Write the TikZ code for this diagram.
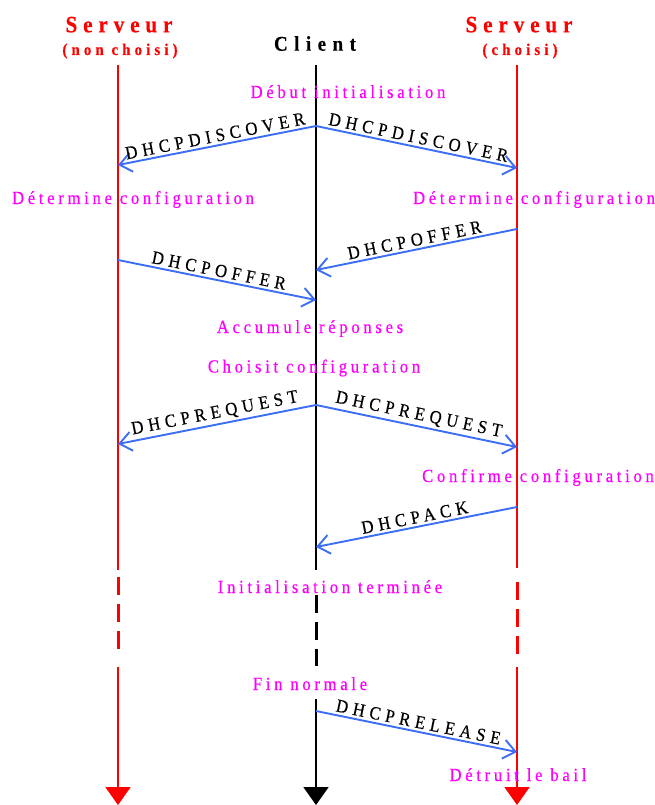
\documentclass[tikz,border=0pt]{standalone}
\usepackage{fontspec}
\setmainfont{Liberation Serif}
\usetikzlibrary{arrows.meta}
\newfontfamily\hdrfont{Liberation Serif}[LetterSpace=25,FakeStretch=0.9,FakeBold=0.3]
\newfontfamily\clientfont{Liberation Serif}[LetterSpace=31,FakeStretch=0.9,FakeBold=0.3]
\newfontfamily\lblfont{Liberation Serif}[LetterSpace=20,FakeStretch=0.9,FakeBold=0.4]
\newfontfamily\msgfont{Liberation Serif}[LetterSpace=27,FakeStretch=0.9,FakeBold=0.4]
\definecolor{msgblue}{RGB}{60,110,245}
\definecolor{notemag}{RGB}{255,0,255}
\definecolor{lifered}{RGB}{255,0,0}
\tikzset{
  liferedline/.style={draw=lifered, line width=2pt},
  lifeblackline/.style={draw=black, line width=2pt},
  lifedash/.style={line width=3pt, dash pattern=on 18pt off 9pt},
  lifeend/.style={-{Triangle[length=18pt,width=25pt]}},
  msg/.style={draw=msgblue, line width=1.9pt, -{Straight Barb[length=12pt,width=19pt]}},
  msglbl/.style={sloped, above, inner sep=2.5pt, text=black, font=\msgfont\fontsize{18.5}{18.5}\selectfont},
  note/.style={anchor=base, inner sep=0pt, text=notemag, font=\lblfont\fontsize{18.5}{18.5}\selectfont},
  hdrbig/.style={anchor=base, inner sep=0pt, font=\hdrfont\bfseries\fontsize{23.5}{24}\selectfont},
  hdrsmall/.style={anchor=base, inner sep=0pt, font=\hdrfont\bfseries\fontsize{16.5}{17}\selectfont},
}
\begin{document}
\begin{tikzpicture}[x=1pt,y=-1pt]
\useasboundingbox (0,0) rectangle (655,805);
% headers
\node[hdrbig, text=lifered] (hL) at (119,32.3) {Serveur};
\node[hdrsmall, text=lifered] (hLs) at (120,55) {(non choisi)};
\node[hdrbig, text=black, font=\clientfont\bfseries\fontsize{21}{21}\selectfont] (hC) at (315,50.7) {Client};
\node[hdrbig, text=lifered] (hR) at (519,32.3) {Serveur};
\node[hdrsmall, text=lifered] (hRs) at (520,55) {(choisi)};
% lifeline coordinates
\coordinate (L0) at (118,65);  \coordinate (L1) at (118,570);
\coordinate (L2) at (118,577); \coordinate (L3) at (118,650);
\coordinate (L4) at (118,667); \coordinate (L5) at (118,805);
\coordinate (C0) at (316,65);  \coordinate (C1) at (316,570);
\coordinate (C2) at (316,595); \coordinate (C3) at (316,666);
\coordinate (C4) at (316,699); \coordinate (C5) at (316,805);
\coordinate (R0) at (517,65);  \coordinate (R1) at (517,568);
\coordinate (R2) at (517,582); \coordinate (R3) at (517,654);
\coordinate (R4) at (517,667); \coordinate (R5) at (517,805);
% lifelines
\draw[liferedline] (L0) -- (L1);
\draw[liferedline, lifedash] (L2) -- (L3);
\draw[liferedline, lifeend, fill=lifered] (L4) -- (L5);
\draw[lifeblackline] (C0) -- (C1);
\draw[lifeblackline, lifedash] (C2) -- (C3);
\draw[lifeblackline, lifeend, fill=black] (C4) -- (C5);
\draw[liferedline] (R0) -- (R1);
\draw[liferedline, lifedash] (R2) -- (R3);
\draw[liferedline, lifeend, fill=lifered] (R4) -- (R5);
% message end points
\coordinate (m1c) at (316,126); \coordinate (m1l) at (118,165); \coordinate (m2r) at (517,168);
\coordinate (m3r) at (517,229); \coordinate (m3c) at (316,270);
\coordinate (m4l) at (118,260); \coordinate (m4c) at (316,300);
\coordinate (m5c) at (316,405); \coordinate (m5l) at (118,444); \coordinate (m6r) at (517,447);
\coordinate (m7r) at (517,507); \coordinate (m7c) at (316,547);
\coordinate (m8c) at (316,711); \coordinate (m8r) at (517,752);
% messages
\draw[msg] (m1c) -- node[msglbl] (t1) {DHCPDISCOVER} (m1l);
\draw[msg] (m1c) -- node[msglbl] (t2) {DHCPDISCOVER} (m2r);
\draw[msg] (m3r) -- node[msglbl] (t3) {DHCPOFFER} (m3c);
\draw[msg] (m4l) -- node[msglbl] (t4) {DHCPOFFER} (m4c);
\draw[msg] (m5c) -- node[msglbl] (t5) {DHCPREQUEST} (m5l);
\draw[msg] (m5c) -- node[msglbl] (t6) {DHCPREQUEST} (m6r);
\draw[msg] (m7r) -- node[msglbl] (t7) {DHCPACK} (m7c);
\draw[msg] (m8c) -- node[msglbl] (t8) {DHCPRELEASE} (m8r);
% notes
\node[note] (n1) at (348,98) {Début initialisation};
\node[note] (n2) at (133,204) {Détermine configuration};
\node[note] (n3) at (534,204) {Détermine configuration};
\node[note] (n4) at (310,333) {Accumule réponses};
\node[note] (n5) at (314,372.5) {Choisit configuration};
\node[note] (n6) at (538,482) {Confirme configuration};
\node[note] (n7) at (330,593) {Initialisation terminée};
\node[note] (n8) at (310,690) {Fin normale};
\node[note] (n9) at (518,781) {Détruit le bail};
\end{tikzpicture}
\end{document}
